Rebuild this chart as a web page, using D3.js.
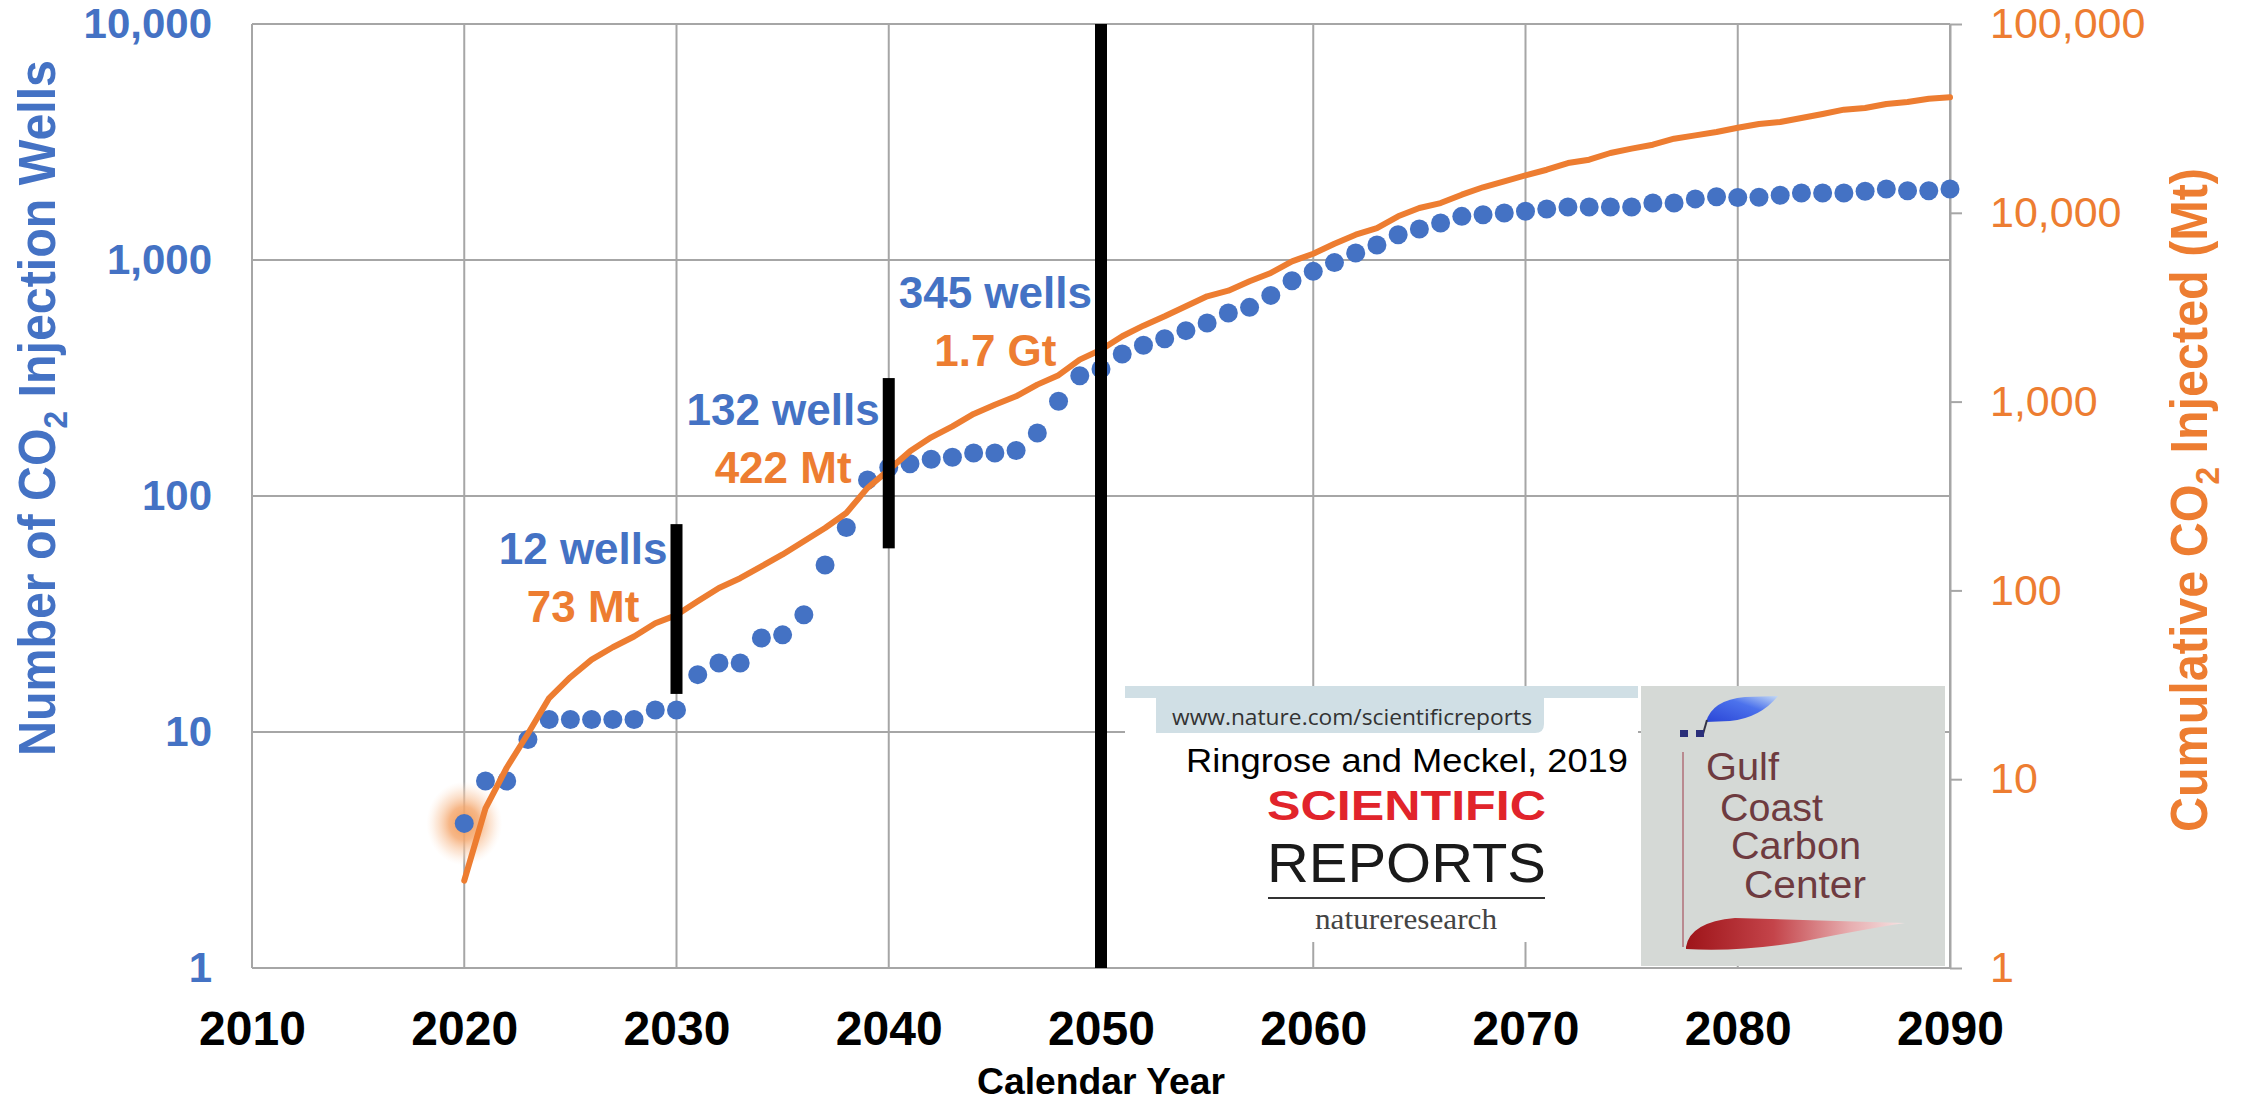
<!DOCTYPE html>
<html><head><meta charset="utf-8">
<script src="https://cdn.jsdelivr.net/npm/d3@7"></script>
<style>
html,body{margin:0;padding:0;background:#fff;}
svg{display:block;}
</style></head>
<body>
<svg id="chart" width="2244" height="1105"></svg>
<script>
// ---------------- DATA ----------------
const years = [2020,2021,2022,2023,2024,2025,2026,2027,2028,2029,
  2030,2031,2032,2033,2034,2035,2036,2037,2038,2039,
  2040,2041,2042,2043,2044,2045,2046,2047,2048,2049,
  2050,2051,2052,2053,2054,2055,2056,2057,2058,2059,
  2060,2061,2062,2063,2064,2065,2066,2067,2068,2069,
  2070,2071,2072,2073,2074,2075,2076,2077,2078,2079,
  2080,2081,2082,2083,2084,2085,2086,2087,2088,2089,2090];

// Number of CO2 injection wells (left axis)
const wells = [4.1,6.2,6.2,9.3,11.3,11.3,11.3,11.3,11.3,12.4,
  12.4,17.5,19.6,19.6,25,25.8,31.4,51,73.6,117,
  132,137,143,146,152,152,156,185,252,323,
  345,400,435,464,502,541,596,630,708,817,
  895,975,1071,1158,1280,1353,1434,1531,1556,1582,
  1608,1644,1678,1678,1678,1678,1745,1745,1815,1853,
  1840,1845,1880,1922,1922,1922,1955,2000,1967,1967,2000];

// Cumulative CO2 injected, Mt (right axis)
const co2 = [2.9,7.0,11.5,17.4,26.9,34.7,43,50,57,67,
  74,87.5,103,116,134,155,182,214,257,349,
  435,545,647,740,860,963,1067,1230,1380,1668,
  1880,2218,2524,2831,3198,3612,3867,4337,4800,5534,
  6072,6858,7654,8306,9580,10600,11260,12470,13650,14690,
  15790,16910,18350,19110,20740,21860,22950,24680,25720,26780,
  28200,29520,30260,31780,33370,35180,35920,37710,38620,40190,40900];

const xTicks = [2010,2020,2030,2040,2050,2060,2070,2080,2090];
const leftTicks = [1,10,100,1000,10000];
const rightTicks = [1,10,100,1000,10000,100000];

// Milestone annotations
const markYears = [2030,2040,2050];
const markLow = [14.5,60,1];        // wells-scale bottom of black marker
const markHigh = [76,316,10000];    // wells-scale top of black marker
const wellLabels = ["12 wells","132 wells","345 wells"];
const co2Labels = ["73 Mt","422 Mt","1.7 Gt"];
const labelAt = [51.7,199,624];     // wells-scale baseline of the wells label

const xTitle = "Calendar Year";

// ---------------- LAYOUT ----------------
const BLUE = "#4472C4", ORANGE = "#ED7D31", GRID = "#A6A6A6";
const L = 252, R = 1950, T = 24, B = 968;
const svg = d3.select("#chart");
const defs = svg.append("defs");

const x = d3.scaleLinear().domain([2010,2090]).range([L,R]);
const yL = d3.scaleLog().domain([1,10000]).range([B,T]);
const yR = d3.scaleLog().domain([1,100000]).range([B,T]);

// gridlines
const grid = svg.append("g");
grid.selectAll("line.v").data(xTicks).join("line")
  .attr("x1",d=>x(d)).attr("x2",d=>x(d)).attr("y1",T).attr("y2",B)
  .attr("stroke",GRID).attr("stroke-width",2);
grid.selectAll("line.h").data(leftTicks).join("line")
  .attr("x1",L).attr("x2",R).attr("y1",d=>yL(d)).attr("y2",d=>yL(d))
  .attr("stroke",GRID).attr("stroke-width",2);

// left axis
const gL = svg.append("g").attr("transform",`translate(${L},0)`)
  .call(d3.axisLeft(yL).tickValues(leftTicks).tickFormat(d3.format(",")).tickSize(0).tickPadding(40));
gL.select(".domain").remove();
gL.selectAll("text").attr("fill",BLUE).attr("font-family","'Liberation Sans', Arial, sans-serif")
  .attr("font-weight","bold").attr("font-size",42);

// right axis
const gR = svg.append("g").attr("transform",`translate(${R},0)`)
  .call(d3.axisRight(yR).tickValues(rightTicks).tickFormat(d3.format(",")).tickSize(12).tickSizeOuter(0).tickPadding(28));
gR.select(".domain").attr("stroke",GRID).attr("stroke-width",2);
gR.selectAll(".tick line").attr("stroke",GRID).attr("stroke-width",2);
gR.selectAll("text").attr("fill",ORANGE).attr("font-family","'Liberation Sans', Arial, sans-serif")
  .attr("font-size",43);

// bottom axis
const gB = svg.append("g").attr("transform",`translate(0,${B})`)
  .call(d3.axisBottom(x).tickValues(xTicks).tickFormat(d3.format("d")).tickSize(0).tickPadding(43));
gB.select(".domain").remove();
gB.selectAll("text").attr("fill","#000").attr("font-family","'Liberation Sans', Arial, sans-serif")
  .attr("font-weight","bold").attr("font-size",48);

// axis titles
const tL = svg.append("text")
  .attr("transform","translate(55,408) rotate(-90)")
  .attr("text-anchor","middle").attr("fill",BLUE)
  .attr("font-family","'Liberation Sans', Arial, sans-serif").attr("font-weight","bold").attr("font-size",52)
  .attr("textLength",696).attr("lengthAdjust","spacingAndGlyphs");
tL.append("tspan").text("Number of CO");
tL.append("tspan").attr("font-size",34).attr("dy",12).text("2");
tL.append("tspan").attr("dy",-12).text(" Injection Wells");

const tR = svg.append("text")
  .attr("transform","translate(2207,500) rotate(-90)")
  .attr("text-anchor","middle").attr("fill",ORANGE)
  .attr("font-family","'Liberation Sans', Arial, sans-serif").attr("font-weight","bold").attr("font-size",52)
  .attr("textLength",664).attr("lengthAdjust","spacingAndGlyphs");
tR.append("tspan").text("Cumulative CO");
tR.append("tspan").attr("font-size",34).attr("dy",12).text("2");
tR.append("tspan").attr("dy",-12).text(" Injected (Mt)");

svg.append("text").attr("x",(L+R)/2).attr("y",1094).attr("text-anchor","middle")
  .attr("fill","#000").attr("font-family","'Liberation Sans', Arial, sans-serif")
  .attr("font-weight","bold").attr("font-size",36)
  .attr("textLength",248).attr("lengthAdjust","spacingAndGlyphs").text(xTitle);

// glow at first point
const rg = defs.append("radialGradient").attr("id","glow");
rg.append("stop").attr("offset","0%").attr("stop-color","#F29A55").attr("stop-opacity",1);
rg.append("stop").attr("offset","40%").attr("stop-color","#F5AA72").attr("stop-opacity",0.85);
rg.append("stop").attr("offset","75%").attr("stop-color","#FAD0B0").attr("stop-opacity",0.45);
rg.append("stop").attr("offset","100%").attr("stop-color","#FDE8D8").attr("stop-opacity",0);
svg.append("ellipse").attr("cx",x(years[0])).attr("cy",yL(wells[0])).attr("rx",38).attr("ry",42).attr("fill","url(#glow)");

// wells dots
svg.append("g").selectAll("circle").data(years).join("circle")
  .attr("cx",d=>x(d)).attr("cy",(d,i)=>yL(wells[i])).attr("r",9.5).attr("fill",BLUE);

// cumulative CO2 line
svg.append("path").datum(years)
  .attr("d",d3.line().x(d=>x(d)).y((d,i)=>yR(co2[i])))
  .attr("fill","none").attr("stroke",ORANGE).attr("stroke-width",6)
  .attr("stroke-linejoin","round").attr("stroke-linecap","round");

// black markers
svg.append("g").selectAll("rect").data(markYears).join("rect")
  .attr("x",d=>x(d)-6).attr("width",12)
  .attr("y",(d,i)=>yL(markHigh[i])).attr("height",(d,i)=>yL(markLow[i])-yL(markHigh[i]))
  .attr("fill","#000");

// annotation labels
markYears.forEach((yr,i)=>{
  const bx = x(yr)-9, by = yL(labelAt[i]);
  const t = svg.append("text").attr("x",bx).attr("y",by).attr("text-anchor","end")
    .attr("fill",BLUE).attr("font-family","'Liberation Sans', Arial, sans-serif")
    .attr("font-weight","bold").attr("font-size",44).text(wellLabels[i]);
  const w = t.node().getComputedTextLength();
  svg.append("text").attr("x",bx - w/2).attr("y",by+58).attr("text-anchor","middle")
    .attr("fill",ORANGE).attr("font-family","'Liberation Sans', Arial, sans-serif")
    .attr("font-weight","bold").attr("font-size",44).text(co2Labels[i]);
});

// ---------------- LOGOS ----------------
const lg = svg.append("g");
lg.append("rect").attr("x",1125).attr("y",686).attr("width",513).attr("height",256).attr("fill","#fff");
lg.append("path").attr("d","M1125,686 H1638 V698 H1544 V724 Q1544,733 1535,733 H1156 V698 H1125 Z").attr("fill","#D0DFE5");
lg.append("text").attr("x",1172).attr("y",725).attr("fill","#333")
  .attr("font-family","'Open Sans', 'Liberation Sans', sans-serif").attr("font-size",21)
  .attr("textLength",360).attr("lengthAdjust","spacingAndGlyphs").text("www.nature.com/scientificreports");
lg.append("text").attr("x",1186).attr("y",772).attr("fill","#000")
  .attr("font-family","'Liberation Sans Narrow', 'Liberation Sans', sans-serif").attr("font-size",34)
  .attr("textLength",442).attr("lengthAdjust","spacingAndGlyphs").text("Ringrose and Meckel, 2019");
lg.append("text").attr("x",1267).attr("y",820).attr("fill","#E1242B")
  .attr("font-family","'Liberation Sans', Arial, sans-serif").attr("font-weight","bold").attr("font-size",42)
  .attr("textLength",279).attr("lengthAdjust","spacingAndGlyphs").text("SCIENTIFIC");
lg.append("text").attr("x",1267).attr("y",882).attr("fill","#1a1a1a")
  .attr("font-family","'Liberation Sans', Arial, sans-serif").attr("font-size",56)
  .attr("textLength",279).attr("lengthAdjust","spacingAndGlyphs").text("REPORTS");
lg.append("line").attr("x1",1268).attr("x2",1545).attr("y1",898).attr("y2",898).attr("stroke","#333").attr("stroke-width",2);
lg.append("text").attr("x",1315).attr("y",929).attr("fill","#444")
  .attr("font-family","'Liberation Serif', serif").attr("font-size",29)
  .attr("textLength",182).attr("lengthAdjust","spacingAndGlyphs").text("natureresearch");

// Gulf Coast Carbon Center
lg.append("rect").attr("x",1641).attr("y",686).attr("width",304).attr("height",280).attr("fill","#D5D9D6");
const bg = defs.append("linearGradient").attr("id","leaf").attr("x1","0").attr("x2","1").attr("y1","1").attr("y2","0");
bg.append("stop").attr("offset","0%").attr("stop-color","#2A45D6");
bg.append("stop").attr("offset","60%").attr("stop-color","#4C72EC");
bg.append("stop").attr("offset","100%").attr("stop-color","#C5DAF5");
lg.append("path").attr("d","M1706,722 Q1712,700 1745,697 L1778,696 Q1760,718 1730,721 Z").attr("fill","url(#leaf)");
lg.append("line").attr("x1",1707).attr("y1",720).attr("x2",1703).attr("y2",734).attr("stroke","#334").attr("stroke-width",2);
lg.append("rect").attr("x",1680).attr("y",730).attr("width",8).attr("height",7).attr("fill","#2B2F7A");
lg.append("rect").attr("x",1696).attr("y",730).attr("width",8).attr("height",7).attr("fill","#2B2F7A");
lg.append("line").attr("x1",1683).attr("y1",752).attr("x2",1683).attr("y2",947).attr("stroke","#B98A90").attr("stroke-width",2);
const rgd = defs.append("linearGradient").attr("id","swoosh").attr("x1","0").attr("x2","1");
rgd.append("stop").attr("offset","0%").attr("stop-color","#9E1419");
rgd.append("stop").attr("offset","40%").attr("stop-color","#C4444A");
rgd.append("stop").attr("offset","75%").attr("stop-color","#E7AEB0");
rgd.append("stop").attr("offset","100%").attr("stop-color","#F6E4E4");
lg.append("path").attr("d","M1686,947 Q1690,922 1735,918 L1905,923 Q1860,930 1800,942 Q1740,952 1686,949 Z").attr("fill","url(#swoosh)");
const gc = [["Gulf",1706,780,73],["Coast",1720,821,103],["Carbon",1731,859,130],["Center",1744,898,122]];
gc.forEach(g=>{
  lg.append("text").attr("x",g[1]).attr("y",g[2]).attr("fill","#6E3B40")
    .attr("font-family","'Liberation Sans Narrow', 'Liberation Sans', sans-serif").attr("font-size",38)
    .attr("textLength",g[3]).attr("lengthAdjust","spacingAndGlyphs").text(g[0]);
});
</script>
</body></html>
